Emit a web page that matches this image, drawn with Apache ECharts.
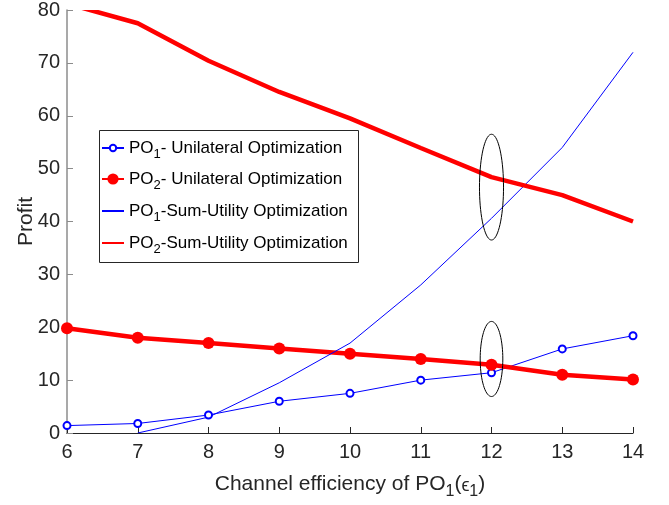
<!DOCTYPE html>
<html><head><meta charset="utf-8">
<script src="https://cdn.jsdelivr.net/npm/echarts@6/dist/echarts.min.js"></script>
<style>html,body{margin:0;padding:0;background:#fff}#c{width:669px;height:505px}</style>
</head><body><div id="c"></div>
<script>
const xValues = [6, 7, 8, 9, 10, 11, 12, 13, 14];
const po1Unilateral = [1.4, 1.8, 3.4, 6.0, 7.5, 10.0, 11.4, 15.9, 18.4];
const po2Unilateral = [19.8, 18.0, 17.0, 16.0, 15.0, 14.0, 12.9, 11.0, 10.1];
const po1SumUtility = [null, 0, 3.0, 9.5, 17.0, 28.0, 40.6, 54.0, 72.0];
const po2SumUtility = [81.2, 77.5, 70.4, 64.5, 59.5, 53.9, 48.4, 45.0, 40.0];
// ellipse annotations: [centerX, centerY, radiusX, radiusY]
const ellipses = [[12, 46.5, 0.17, 10.0], [12, 14.0, 0.16, 7.1]];
const seriesNames = ['PO1- Unilateral Optimization', 'PO2- Unilateral Optimization',
                     'PO1-Sum-Utility Optimization', 'PO2-Sum-Utility Optimization'];
const legendLabels = ['{n|PO}{s|1}{n|- Unilateral Optimization}', '{n|PO}{s|2}{n|- Unilateral Optimization}',
                      '{n|PO}{s|1}{n|-Sum-Utility Optimization}', '{n|PO}{s|2}{n|-Sum-Utility Optimization}'];

const pairs = ys => xValues.map((x, i) => [x, ys[i]]);
const FONT = 'Liberation Sans';

const chart = echarts.init(document.getElementById('c'), null, {renderer: 'canvas'});
const subRich = {
  n: {fontSize: 17, fontFamily: FONT, color: '#000'},
  s: {fontSize: 13, fontFamily: FONT, color: '#000', padding: [12, 0, 0, 0]}
};
// legend rows: centre y of each row, icon height
const legendRowCenters = [148, 179, 211, 243];
const legendIconHeights = [8, 14, 14, 14];
const legends = seriesNames.map((name, i) => ({
  orient: 'vertical', left: 101, top: legendRowCenters[i] - 8.5,
  padding: 0, itemWidth: 22, itemHeight: legendIconHeights[i],
  formatter: () => legendLabels[i],
  textStyle: {rich: subRich},
  data: [i >= 2 ? {name, itemStyle: {opacity: 0}} : {name}]
}));

chart.setOption({
  animation: false,
  backgroundColor: '#fff',
  grid: {left: 67, right: 36, top: 9, bottom: 72, containLabel: false},
  xAxis: {
    type: 'value', min: 6, max: 14, interval: 1,
    name: 'Channel efficiency of PO{s|1}({e|ϵ}{s|1})',
    nameLocation: 'middle', nameGap: 36,
    nameTextStyle: {
      fontSize: 21, fontFamily: FONT, color: '#262626',
      rich: {
        s: {fontSize: 16, fontFamily: FONT, color: '#262626', padding: [15, 0, 0, 0]},
        e: {fontSize: 18, fontFamily: FONT, color: '#262626', padding: [3, 0, 0, 0]}
      }
    },
    axisLine: {lineStyle: {color: '#262626', width: 1.2}},
    axisTick: {inside: true, length: 6, lineStyle: {color: '#262626'}},
    axisLabel: {fontSize: 20, fontFamily: FONT, color: '#262626', margin: 9},
    splitLine: {show: false}
  },
  yAxis: {
    type: 'value', min: 0, max: 80, interval: 10,
    name: 'Profit', nameLocation: 'middle', nameGap: 30, nameMoveOverlap: false,
    nameTextStyle: {fontSize: 21, fontFamily: FONT, color: '#262626'},
    axisLine: {show: true, lineStyle: {color: '#8c8c8c', width: 1.5}},
    axisTick: {show: true, inside: true, length: 6, lineStyle: {color: '#8c8c8c'}},
    axisLabel: {fontSize: 20, fontFamily: FONT, color: '#262626', margin: 7},
    splitLine: {show: false}
  },
  legend: legends,
  series: [
    {
      name: seriesNames[0], type: 'line', data: pairs(po1Unilateral),
      symbol: 'emptyCircle', symbolSize: 7, color: '#0000ff',
      lineStyle: {width: 1, color: '#0000ff'},
      itemStyle: {color: '#0000ff', borderWidth: 1}
    },
    {
      name: seriesNames[1], type: 'line', data: pairs(po2Unilateral),
      symbol: 'circle', symbolSize: 12, color: '#ff0000',
      lineStyle: {width: 4.5, color: '#ff0000'},
      itemStyle: {color: '#ff0000'}
    },
    {
      name: seriesNames[2], type: 'line', data: pairs(po1SumUtility),
      showSymbol: false, symbol: 'none', color: '#0000ff', connectNulls: false,
      lineStyle: {width: 1, color: '#0000ff'}
    },
    {
      name: seriesNames[3], type: 'line', data: pairs(po2SumUtility),
      showSymbol: false, symbol: 'none', color: '#ff0000', clip: true,
      lineStyle: {width: 4.5, color: '#ff0000'}
    },
    {
      type: 'custom', data: ellipses, clip: false, silent: true, z: 10,
      renderItem: (params, api) => {
        const cx = api.value(0), cy = api.value(1), rx = api.value(2), ry = api.value(3);
        const pts = [];
        for (let k = 0; k <= 72; k++) {
          const t = k / 72 * Math.PI * 2;
          pts.push(api.coord([cx + rx * Math.cos(t), cy + ry * Math.sin(t)]));
        }
        return {type: 'polyline', shape: {points: pts},
                style: {stroke: '#000', lineWidth: 1, fill: null}};
      }
    }
  ]
});

// legend frame and a mask that clips lines exactly at the top of the plot area (as the original does)
const topLeft = chart.convertToPixel({gridIndex: 0}, [6, 80]);
chart.setOption({
  graphic: [
    {type: 'rect', z: 100, silent: true,
     shape: {x: topLeft[0] + 1, y: 0, width: 669 - topLeft[0], height: topLeft[1]},
     style: {fill: '#fff'}},
    {type: 'rect', z: 0, zlevel: 0, silent: true,
     shape: {x: 99.5, y: 130.5, width: 259, height: 132},
     style: {fill: '#fff', stroke: '#262626', lineWidth: 1}}
  ]
});
</script></body></html>
